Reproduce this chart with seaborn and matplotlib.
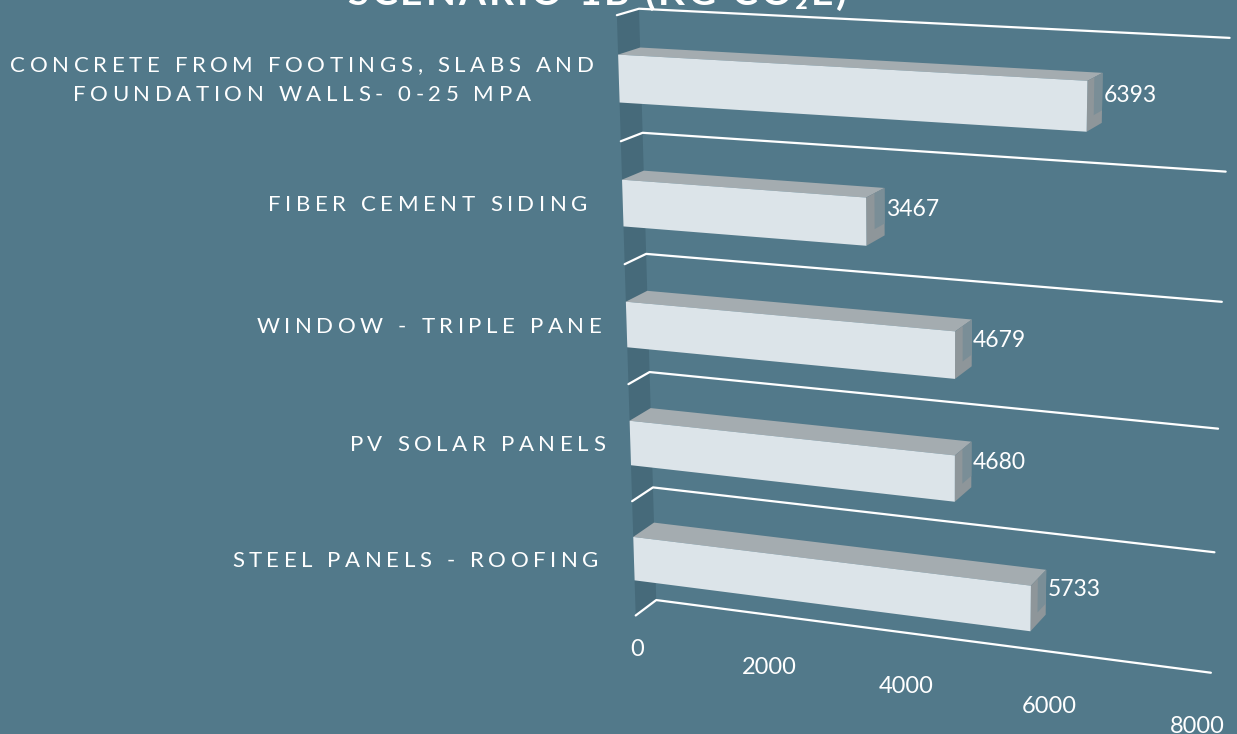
import numpy as np
import pandas as pd
import matplotlib
matplotlib.use("Agg")
import matplotlib.pyplot as plt
import seaborn as sns
from matplotlib.transforms import Transform
from matplotlib.patches import Polygon
from matplotlib.font_manager import FontProperties

# ---- data -------------------------------------------------------------
categories = [
    "CONCRETE FROM FOOTINGS, SLABS AND\nFOUNDATION WALLS- 0-25 MPA",
    "FIBER CEMENT SIDING ",
    "WINDOW - TRIPLE PANE",
    "PV SOLAR PANELS",
    "STEEL PANELS - ROOFING ",
]
values = [6393, 3467, 4679, 4680, 5733]
tick_values = [0, 2000, 4000, 6000, 8000]
value_max = 8000
title = "SCENARIO 1B (KG CO₂E)"

# ---- style ------------------------------------------------------------
BG = "#52798a"
WALL = "#466a7a"
FRONT = "#dce4e9"
TOP = "#a4acb0"
END = "#8e969a"
END_SHADE = "#7a8e97"
W, H, DPI = 1237, 734, 100

sns.set_style("white")
FONT = ["Lato", "DejaVu Sans"]
plt.rcParams["font.family"] = FONT

# ---- 3-D box and camera ------------------------------------------------
# Box coordinates: u = value / value_max (0..1), r = row boundary (0 top .. 5 bottom),
# z = depth (0 front face, 1 back wall). Page anchors of the box frame in pixels.
box_world = np.array([
    (0, 0, 1), (0, 1, 1), (0, 2, 1), (0, 3, 1), (0, 4, 1), (0, 5, 1),
    (1, 0, 1), (1, 1, 1), (1, 2, 1), (1, 3, 1), (1, 4, 1), (1, 5, 1),
    (0, 0, 0), (0, 1, 0), (0, 4, 0), (0, 5, 0), (1, 0, 0), (1, 5, 0),
], float)
box_page = np.array([
    (640, 9), (642, 132), (645, 255), (650, 372), (653, 487), (656, 599),
    (1230, 38), (1225, 172), (1222, 301), (1218, 430), (1215, 552), (1211, 673),
    (617, 15), (621, 141), (632, 502), (636, 616), (1216, 45), (1198, 690),
], float)


def fit_camera(world, page):
    s = 1000.0
    rows = []
    for (X, Y, Z), (px, py) in zip(world, page / s):
        p = np.array([X, Y, Z, 1.0])
        rows.append(np.concatenate([p, np.zeros(4), -px * p]))
        rows.append(np.concatenate([np.zeros(4), p, -py * p]))
    _, _, vt = np.linalg.svd(np.array(rows))
    return np.diag([s, s, 1.0]) @ vt[-1].reshape(3, 4)


CAM = fit_camera(box_world, box_page)


def project(u, r, z):
    u, r, z = np.broadcast_arrays(np.asarray(u, float), np.asarray(r, float),
                                  np.asarray(z, float))
    h = CAM @ np.vstack([u.ravel(), r.ravel(), z.ravel(), np.ones(u.size)])
    return np.column_stack([h[0] / h[2], h[1] / h[2]])


class PlaneAtDepth(Transform):
    """(value, category position) on a plane of constant depth -> page pixels."""
    input_dims = 2
    output_dims = 2
    is_separable = False
    has_inverse = False

    def __init__(self, z):
        super().__init__()
        self.z = z

    def transform_non_affine(self, values_xy):
        xy = np.asarray(values_xy, float).reshape(-1, 2)
        return project(xy[:, 0] / value_max, xy[:, 1] + 0.5, self.z)


# ---- figure -----------------------------------------------------------
fig = plt.figure(figsize=(W / DPI, H / DPI), dpi=DPI, facecolor=BG)
ax = fig.add_axes([0, 0, 1, 1])

df = pd.DataFrame({"category": categories, "value": values})
sns.barplot(data=df, x="value", y="category", orient="h", color=FRONT,
            saturation=1, width=0.38, linewidth=0, ax=ax)
bars = list(ax.patches)

ax.set_xlim(0, W)
ax.set_ylim(H, 0)
ax.set_axis_off()

front = PlaneAtDepth(0.0) + ax.transData
back = PlaneAtDepth(1.0) + ax.transData
n = len(categories)

# side wall
wall = project([0, 0, 0, 0], [0, 0, n, n], [0, 1, 1, 0])
ax.add_patch(Polygon(wall, closed=True, facecolor=WALL, edgecolor="none", zorder=1))

# row gridlines: across the side wall, then along the back wall
for r in range(n + 1):
    pts = project([0, 0, 1], [r, r, r], [0, 1, 1])
    ax.plot(pts[:, 0], pts[:, 1], color="white", lw=1.6, zorder=2,
            solid_capstyle="round", solid_joinstyle="round")

# bars: front face from seaborn, top and end faces from the same bar extents
for bar in bars:
    v = bar.get_width()
    y0 = bar.get_y()
    y1 = y0 + bar.get_height()
    u, r0, r1 = v / value_max, y0 + 0.5, y1 + 0.5
    top = project([0, u, u, 0], [r0] * 4, [0, 0, 1, 1])
    end = project([u] * 4, [r0, r1, r1, r0], [0, 0, 1, 1])
    rm = r0 + 0.75 * (r1 - r0)
    shade = project([u] * 4, [r0, rm, rm, r0], [0.45, 0.45, 1, 1])
    ax.add_patch(Polygon(top, closed=True, facecolor=TOP, edgecolor="none", zorder=3))
    ax.add_patch(Polygon(end, closed=True, facecolor=END, edgecolor="none", zorder=3))
    ax.add_patch(Polygon(shade, closed=True, facecolor=END_SHADE, edgecolor="none",
                         zorder=3.5))
    bar.set_transform(front)
    bar.set_zorder(4)

# value labels at the bar ends
for i, v in enumerate(values):
    ax.annotate(f"{v}", xy=(v, i - 0.02), xycoords=back, xytext=(1, 0),
                textcoords="offset points", ha="left", va="center",
                color="white", fontsize=16.5)

# value axis tick labels under the front edge
for t in tick_values:
    ax.text(t, n - 0.5 + 0.3, f"{t}", transform=front, ha="center",
            va="center", color="white", fontsize=17)


def tracked_text(x, y_mid, text, size, track, line_step=29, ha="right",
                 weight="normal"):
    """Letter-spaced, centre-justified multi-line text anchored at x."""
    fp = FontProperties(family=FONT, size=size, weight=weight)
    rend = fig.canvas.get_renderer()

    def width(s):
        return rend.get_text_width_height_descent(s, fp, ismath=False)[0]

    ref = width("I")
    lines = text.split("\n")
    layouts = []
    for line in lines:
        offs = [width(line[:k] + "I") - ref + track * k for k in range(len(line))]
        total = width(line + "I") - ref + track * (len(line) - 1)
        layouts.append((line, offs, total))
    block = max(l[2] for l in layouts)
    center = x - block / 2 if ha == "right" else x
    cap = 0.72 * size * DPI / 72
    for j, (line, offs, total) in enumerate(layouts):
        base = y_mid + (j - (len(lines) - 1) / 2) * line_step + cap / 2
        left = center - total / 2
        for ch, o in zip(line, offs):
            if ch.strip():
                ax.text(left + o, base, ch, fontproperties=fp, color="white",
                        ha="left", va="baseline", clip_on=False)


# category labels beside the side wall
label_pos = project(np.zeros(n), np.arange(n) + 0.5, np.zeros(n))
for (px, py), cat in zip(label_pos, categories):
    tracked_text(px - 25, py, cat, size=16, track=4.6)

# title (runs off the top edge)
tracked_text(597, -9, title, size=28, track=3, ha="center", weight="bold")

fig.savefig("out.png", dpi=DPI, facecolor=BG)
